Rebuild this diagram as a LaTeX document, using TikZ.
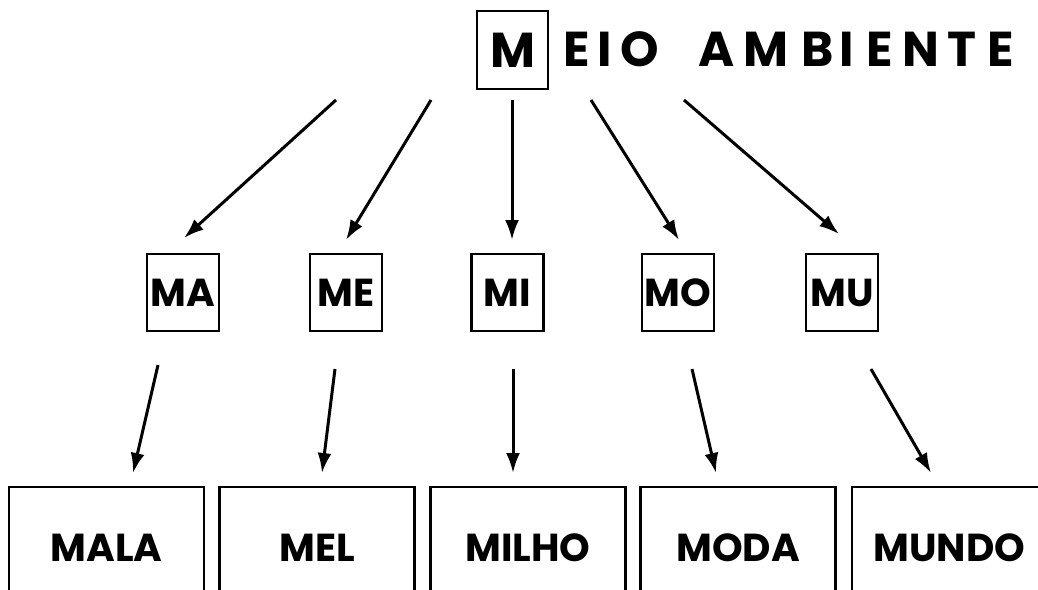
\documentclass[tikz,border=0pt]{standalone}
\usepackage{fontspec}
\setmainfont{Poppins}
\usetikzlibrary{arrows.meta}

\tikzset{
  caixa/.style={draw, line width=2.6pt, inner sep=0pt, text height=28pt, text depth=0pt,
    font=\fontsize{39}{39}\selectfont\bfseries},
  silaba/.style={caixa, minimum width=72pt, minimum height=77pt},
  palavra/.style={caixa, minimum width=195pt, minimum height=120pt},
  letra/.style={anchor=base, inner sep=0pt, font=\fontsize{49}{49}\selectfont\bfseries},
  seta/.style={line width=3pt, -{Latex[length=20pt,width=14pt]}},
}

\begin{document}
\begin{tikzpicture}[x=1pt,y=-1pt]
    \useasboundingbox (0,0) rectangle (1038,589);
    \clip (0,0) rectangle (1038,589);

    % titulo
    \node[silaba, minimum width=71pt, minimum height=78pt, text height=35pt,
      font=\fontsize{49}{49}\selectfont\bfseries] (M) at (512.5,50) {M};
    \foreach \ch/\x [count=\i] in {E/577, I/605, O/640, A/717, M/766, B/818,
      I/847, E/880, N/921, T/962, E/1001}
        \node[letra] (l\i) at (\x,66) {\ch};

    % silabas
    \node[silaba] (ma) at (183,292.5) {MA};
    \node[silaba] (me) at (346,292.5) {ME};
    \node[silaba] (mi) at (507.5,292.5) {MI};
    \node[silaba] (mo) at (678,292.5) {MO};
    \node[silaba] (mu) at (842,292.5) {MU};

    % palavras
    \node[palavra] (mala) at (106.5,547) {MALA};
    \node[palavra] (mel) at (317,547) {MEL};
    \node[palavra] (milho) at (528,547) {MILHO};
    \node[palavra] (moda) at (738,547) {MODA};
    \node[palavra] (mundo) at (949.5,547) {MUNDO};

    % setas
    \coordinate (s1) at (336,100);  \coordinate (e1) at (184,238);
    \coordinate (s2) at (431,100);  \coordinate (e2) at (346,240);
    \coordinate (s3) at (512,100);  \coordinate (e3) at (512,240);
    \coordinate (s4) at (591,100);  \coordinate (e4) at (679,240);
    \coordinate (s5) at (684,100);  \coordinate (e5) at (839,234);
    \coordinate (s6) at (158,365);  \coordinate (e6) at (133,473);
    \coordinate (s7) at (335,369);  \coordinate (e7) at (322,473);
    \coordinate (s8) at (513,369);  \coordinate (e8) at (513,473);
    \coordinate (s9) at (692,369);  \coordinate (e9) at (716,473);
    \coordinate (s10) at (871,369); \coordinate (e10) at (931,473);
    \foreach \i in {1,...,10}
        \draw[seta] (s\i) -- (e\i);
\end{tikzpicture}
\end{document}
